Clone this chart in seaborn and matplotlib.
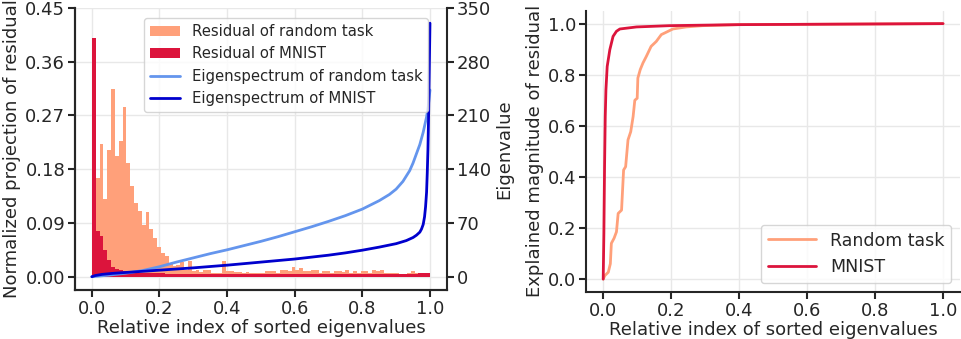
import matplotlib
matplotlib.use("Agg")
import matplotlib.pyplot as plt
import numpy as np
import pandas as pd
import seaborn as sns

# --- Données ---
n_bins = 88
bin_centers = (np.arange(n_bins) + 0.5) / n_bins

residual_random = [
    0.120, 0.165, 0.222, 0.130, 0.212, 0.314, 0.202, 0.227, 0.284, 0.190,
    0.151, 0.124, 0.110, 0.087, 0.109, 0.080, 0.064, 0.050, 0.040, 0.034,
    0.022, 0.018, 0.020, 0.025, 0.012, 0.027, 0.010, 0.012, 0.008, 0.012,
    0.012, 0.006, 0.006, 0.007, 0.027, 0.010, 0.010, 0.008, 0.008, 0.006,
    0.008, 0.006, 0.006, 0.007, 0.006, 0.009, 0.009, 0.010, 0.007, 0.011,
    0.011, 0.009, 0.016, 0.012, 0.014, 0.009, 0.009, 0.012, 0.012, 0.006,
    0.009, 0.009, 0.007, 0.009, 0.009, 0.008, 0.012, 0.007, 0.009, 0.007,
    0.009, 0.009, 0.006, 0.012, 0.009, 0.011, 0.007, 0.006, 0.006, 0.006,
    0.005, 0.005, 0.007, 0.009, 0.006, 0.006, 0.007, 0.006,
]
residual_mnist = [
    0.400, 0.076, 0.068, 0.045, 0.028, 0.017, 0.013, 0.011, 0.010, 0.009,
    0.008, 0.008, 0.007, 0.007, 0.007, 0.006, 0.006, 0.006, 0.006, 0.005,
    0.005, 0.005, 0.005, 0.004, 0.005, 0.004, 0.005, 0.004, 0.004, 0.005,
    0.004, 0.004, 0.005, 0.004, 0.004, 0.004, 0.005, 0.004, 0.004, 0.004,
    0.004, 0.005, 0.004, 0.004, 0.004, 0.004, 0.004, 0.005, 0.004, 0.004,
    0.004, 0.004, 0.004, 0.004, 0.005, 0.004, 0.004, 0.004, 0.004, 0.004,
    0.004, 0.004, 0.004, 0.004, 0.004, 0.004, 0.004, 0.004, 0.004, 0.004,
    0.004, 0.004, 0.004, 0.004, 0.004, 0.004, 0.004, 0.004, 0.004, 0.004,
    0.004, 0.004, 0.004, 0.005, 0.005, 0.006, 0.007, 0.007,
]

eig_random_x = [0.0, 0.05, 0.1, 0.15, 0.2, 0.25, 0.3, 0.35, 0.4, 0.45, 0.5,
                0.55, 0.6, 0.65, 0.7, 0.75, 0.8, 0.85, 0.88, 0.9, 0.92, 0.94,
                0.95, 0.96, 0.97, 0.98, 0.99, 0.995, 1.0]
eig_random_y = [0, 2, 4.5, 8, 13, 19, 24.5, 30, 35, 40.5, 46,
                52, 58.5, 65, 72, 79.5, 88, 99, 107, 114, 124, 138,
                148, 160, 172, 188, 208, 222, 243]

eig_mnist_x = [0.0, 0.01, 0.03, 0.06, 0.1, 0.15, 0.2, 0.3, 0.4, 0.5, 0.6,
               0.7, 0.75, 0.8, 0.85, 0.9, 0.93, 0.95, 0.96, 0.97, 0.975,
               0.98, 0.984, 0.987, 0.99, 0.992, 0.994, 0.996, 0.998, 1.0]
eig_mnist_y = [0, 1.5, 3, 4.3, 5.5, 7, 8.5, 11.5, 15, 19, 23,
               28, 31, 34.5, 38.5, 43, 47, 51, 54, 58, 62,
               68, 78, 91, 110, 135, 165, 210, 270, 330]

cum_random_x = [0.0, 0.005, 0.015, 0.021, 0.024, 0.032, 0.039, 0.044, 0.054,
                0.06, 0.066, 0.073, 0.081, 0.088, 0.093, 0.1, 0.102, 0.109,
                0.117, 0.127, 0.141, 0.156, 0.171, 0.185, 0.205, 0.244,
                0.293, 0.4, 1.0]
cum_random_y = [0.0, 0.014, 0.027, 0.06, 0.14, 0.16, 0.185, 0.257, 0.27,
                0.427, 0.44, 0.545, 0.577, 0.636, 0.70, 0.708, 0.787, 0.82,
                0.846, 0.872, 0.911, 0.93, 0.957, 0.966, 0.979, 0.987,
                0.992, 0.996, 1.0]

cum_mnist_x = [0.0, 0.002, 0.004, 0.006, 0.008, 0.0117, 0.0195, 0.029,
               0.039, 0.049, 0.098, 0.195, 0.4, 1.0]
cum_mnist_y = [0.0, 0.18, 0.44, 0.636, 0.74, 0.832, 0.898, 0.95,
               0.97, 0.979, 0.987, 0.992, 0.996, 1.0]

df_res = pd.DataFrame({
    "index": bin_centers,
    "random": residual_random,
    "mnist": residual_mnist,
})

# --- Style ---
sns.set_theme(
    style="whitegrid",
    rc={
        "axes.edgecolor": ".15",
        "axes.linewidth": 1.5,
        "grid.color": ".91",
        "xtick.bottom": True,
        "ytick.left": True,
        "xtick.major.size": 5,
        "ytick.major.size": 5,
        "xtick.major.width": 1.5,
        "ytick.major.width": 1.5,
        "xtick.major.pad": 2,
        "ytick.major.pad": 2,
        "xtick.labelsize": 13,
        "ytick.labelsize": 13,
        "axes.labelsize": 13,
    },
)

fig = plt.figure(figsize=(9.61, 3.39), dpi=100)
ax = fig.add_axes([0.078, 0.145, 0.387, 0.832])
ax_r = fig.add_axes([0.61, 0.139, 0.389, 0.829])

# --- Figure de gauche : résidus + spectre ---
sns.histplot(data=df_res, x="index", weights="random", binwidth=1 / n_bins,
             binrange=(0, 1), ax=ax, color="#FFA07A", alpha=1, linewidth=0,
             label="Residual of random task")
sns.histplot(data=df_res, x="index", weights="mnist", binwidth=1 / n_bins,
             binrange=(0, 1), ax=ax, color="#DC143C", alpha=1, linewidth=0,
             label="Residual of MNIST")
ax.set_xlim(-0.05, 1.05)
ax.set_ylim(-0.022, 0.45)
ticks_left = np.arange(0, 0.46, 0.09)
ax.set_yticks(ticks_left)
ax.set_yticklabels([f"{v:.2f}" for v in ticks_left])
ax.set_xticks(np.arange(0, 1.01, 0.2))
ax.set_xlabel("Relative index of sorted eigenvalues", labelpad=1)
ax.set_ylabel("Normalized projection of residual", labelpad=3)

ax2 = ax.twinx()
sns.lineplot(x=eig_random_x, y=eig_random_y, ax=ax2, color="#6495ED",
             linewidth=2, label="Eigenspectrum of random task")
sns.lineplot(x=eig_mnist_x, y=eig_mnist_y, ax=ax2, color="#0000CD",
             linewidth=2, label="Eigenspectrum of MNIST")
ax2.set_ylim(-0.022 / 0.45 * 350, 350)
ax2.set_yticks(np.arange(0, 351, 70))
ax2.grid(False)
ax2.tick_params(axis="y", right=True, length=5, width=1.5, pad=2)
ax2.set_ylabel("Eigenvalue", labelpad=3)
ax2.spines["top"].set_visible(False)
ax.spines["top"].set_visible(False)
ax.spines["right"].set_visible(False)

h1, l1 = ax.get_legend_handles_labels()
h2, l2 = ax2.get_legend_handles_labels()
ax2.legend(h1 + h2, l1 + l2, loc="upper right", bbox_to_anchor=(0.97, 0.99),
           fontsize=10.7, frameon=True)
if ax.get_legend() is not None:
    ax.get_legend().remove()

# --- Figure de droite : magnitude expliquée ---
sns.lineplot(x=cum_random_x, y=cum_random_y, ax=ax_r, color="#FFA07A",
             linewidth=2, label="Random task")
sns.lineplot(x=cum_mnist_x, y=cum_mnist_y, ax=ax_r, color="#DC143C",
             linewidth=2, label="MNIST")
ax_r.set_xlim(-0.05, 1.05)
ax_r.set_ylim(-0.05, 1.05)
ax_r.set_xticks(np.arange(0, 1.01, 0.2))
ax_r.set_yticks(np.arange(0, 1.01, 0.2))
ax_r.set_xlabel("Relative index of sorted eigenvalues", labelpad=1)
ax_r.set_ylabel("Explained magnitude of residual", labelpad=3)
ax_r.legend(loc="lower right", fontsize=12.5, handlelength=2.8)
sns.despine(ax=ax_r)

plt.savefig("out.png", dpi=100)
plt.close()
